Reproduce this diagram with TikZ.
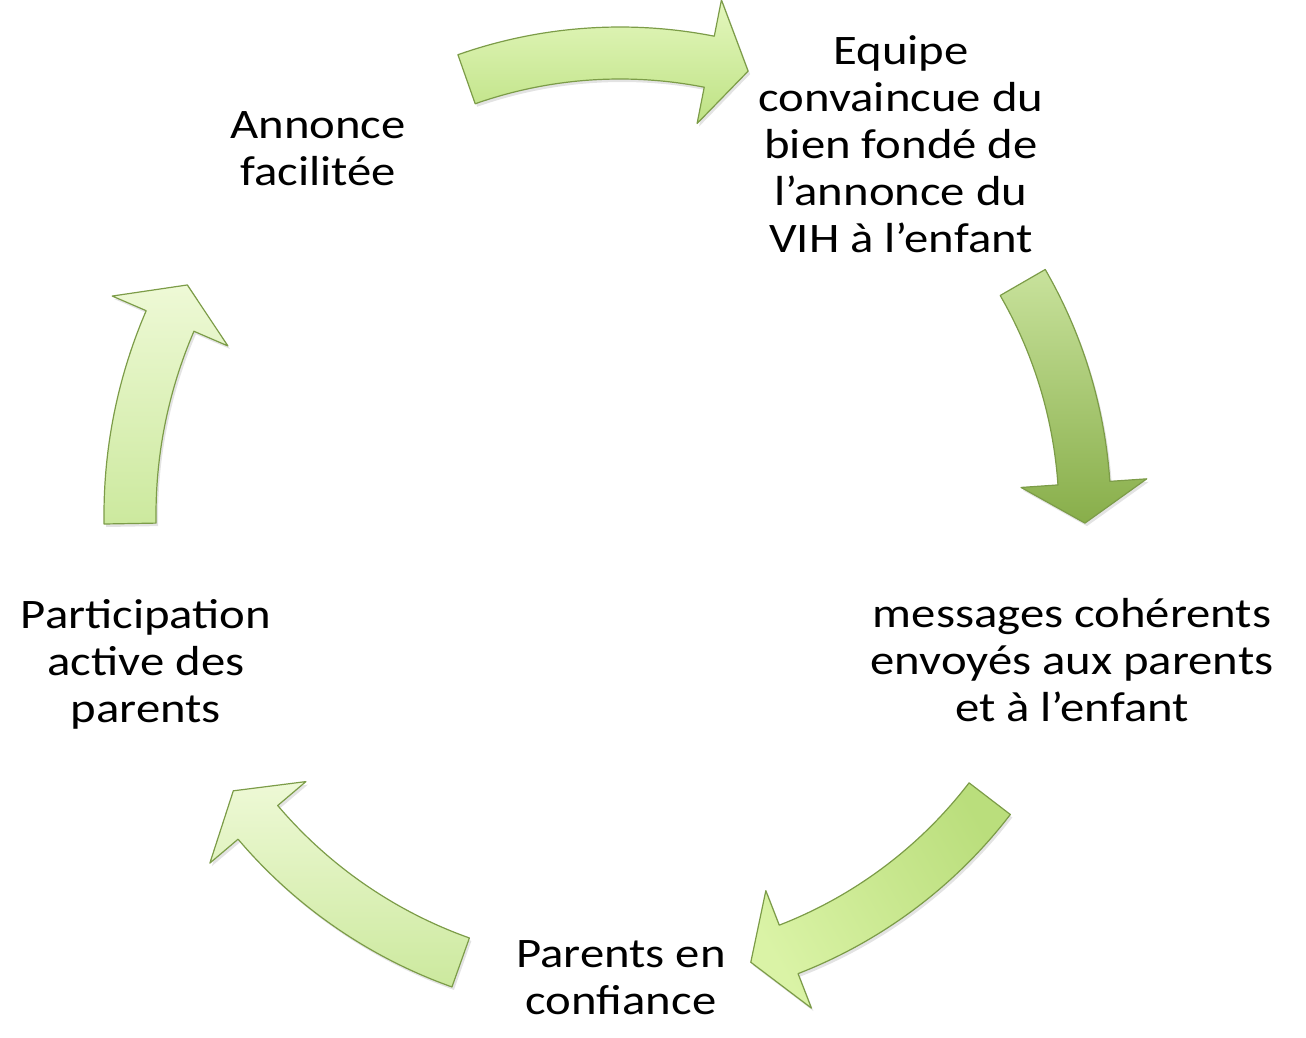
\documentclass[tikz,border=0pt]{standalone}
\usepackage{fontspec}
\setmainfont[FakeStretch=1.16]{Carlito}
\usepackage{xcolor}
\usetikzlibrary{positioning,shadows}
\definecolor{arrowedge}{RGB}{124,156,72}
\definecolor{paleA}{RGB}{238,249,214}
\definecolor{paleB}{RGB}{204,233,158}
\definecolor{lightA}{RGB}{228,247,190}
\definecolor{lightB}{RGB}{190,226,132}
\definecolor{midA}{RGB}{218,243,166}
\definecolor{midB}{RGB}{186,222,124}
\definecolor{darkA}{RGB}{200,226,156}
\definecolor{darkB}{RGB}{136,174,74}

% curved block arrow on a circle: style, radius, tail angle, tip angle
\newcommand{\cyclearrow}[4]{%
  \pgfmathsetmacro{\arOut}{#2+26}
  \pgfmathsetmacro{\arIn}{#2-26}
  \pgfmathsetmacro{\arHo}{#2+63}
  \pgfmathsetmacro{\arHi}{#2-63}
  \pgfmathsetmacro{\arBase}{#4+40/#2*180/pi}
  \path[cyclearrow,#1] (#3:\arOut) arc[start angle=#3, end angle=\arBase, radius=\arOut]
    -- (\arBase:\arHo) -- (#4:#2) -- (\arBase:\arHi) -- (\arBase:\arIn)
    arc[start angle=\arBase, end angle=#3, radius=\arIn] -- cycle;
}

\begin{document}
\begin{tikzpicture}[x=1pt,y=1pt,
  cyclearrow/.style={draw=arrowedge, line width=1.2pt, line join=round,
    drop shadow={opacity=0.22, shadow xshift=2pt, shadow yshift=-3pt}},
  steptext/.style={align=center, inner sep=0pt, font=\fontsize{42}{47}\selectfont}
  ]
  \useasboundingbox (0,0) rectangle (1306,1037);

  % arrows round the cycle
  \begin{scope}[shift={(620,522)}]
    \cyclearrow{top color=lightA, bottom color=lightB}{462}{109.4}{73.9}
    \cyclearrow{top color=darkA, bottom color=darkB}{465}{30}{-1}
    \cyclearrow{left color=midB, right color=midA, shading angle=-60}{466}{-37.5}{-73.7}
    \cyclearrow{top color=paleA, bottom color=paleB}{475}{-109.6}{-144.5}
    \cyclearrow{top color=paleA, bottom color=paleB}{490}{181}{152}
  \end{scope}

  % steps
  \node[steptext] (annonce) at (318,888) {Annonce\\facilitée};
  \node[steptext] (equipe) at (901,893) {Equipe\\convaincue du\\bien fondé de\\l’annonce du\\VIH à l’enfant};
  \node[steptext] (messages) at (1072,377) {messages cohérents\\envoyés aux parents\\et à l'enfant};
  \node[steptext] (parents) at (621,59) {Parents en\\confiance};
  \node[steptext] (participation) at (146,373) {Participation\\active des\\parents};
\end{tikzpicture}
\end{document}
